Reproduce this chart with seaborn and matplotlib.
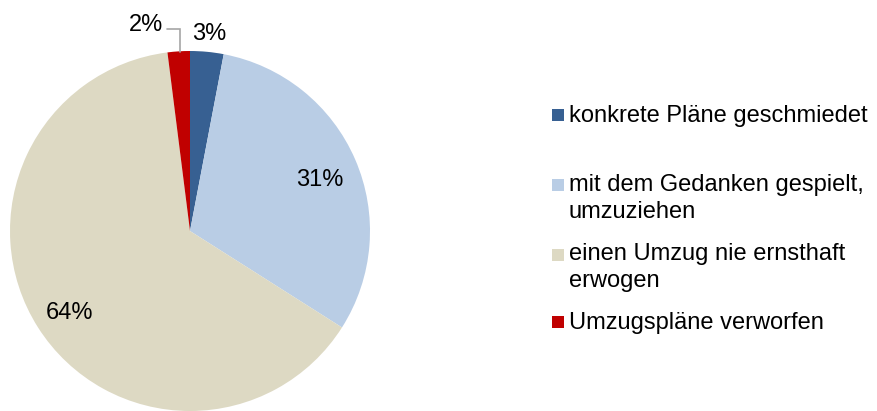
import matplotlib
matplotlib.use("Agg")
import matplotlib.pyplot as plt
import seaborn as sns
from matplotlib.patches import Rectangle

sns.set_theme(style="white")
plt.rcParams['font.family'] = ['Liberation Sans', 'DejaVu Sans']

categories = ["konkrete Pläne geschmiedet",
              "mit dem Gedanken gespielt,\numzuziehen",
              "einen Umzug nie ernsthaft\nerwogen",
              "Umzugspläne verworfen"]
values = [3, 31, 64, 2]
colors = ["#376092", "#B9CDE5", "#DDD9C3", "#C00000"]

W, H = 877, 411
fig = plt.figure(figsize=(W / 100, H / 100), dpi=100)
fig.patch.set_facecolor("white")
cx, cy, r = 190, 231, 180
ax = fig.add_axes([(cx - r) / W, (H - cy - r) / H, 2 * r / W, 2 * r / H])
wedges, texts, autotexts = ax.pie(values, colors=colors, startangle=90, counterclock=False,
                                  autopct='%.0f%%', pctdistance=0.79, radius=1,
                                  wedgeprops=dict(linewidth=0),
                                  textprops=dict(fontsize=17, color="black"))
ax.set_xlim(-1, 1)
ax.set_ylim(-1, 1)
ax.set_aspect("equal")
ax.axis("off")

# nudge inside labels slightly down
for t in (autotexts[1], autotexts[2]):
    x, y = t.get_position()
    t.set_position((x - 0.005, y - 0.03))

# move small labels outside
autotexts[0].set_position((0.108, 1.096))
autotexts[3].set_position((-0.244, 1.146))
for t in autotexts:
    t.set_clip_on(False)
ax.plot([-0.128, -0.056, -0.056], [1.122, 1.122, 0.994], color="#A6A6A6", lw=1.2,
        clip_on=False, solid_joinstyle="miter")

# legend drawn manually (baseline = last line of each entry)
marker_rows = [115, 185, 255, 322]
baselines = [122, 218, 287, 329]
for cat, col, yc, yb in zip(categories, colors, marker_rows, baselines):
    fig.patches.append(Rectangle((552 / W, 1 - (yc + 6) / H), 12 / W, 12 / H,
                                 transform=fig.transFigure, facecolor=col, edgecolor="none"))
    fig.text(569 / W, 1 - yb / H, cat, fontsize=17, va="baseline", ha="left",
             color="black", linespacing=1.32)

fig.savefig("out.png", dpi=100, facecolor="white")
